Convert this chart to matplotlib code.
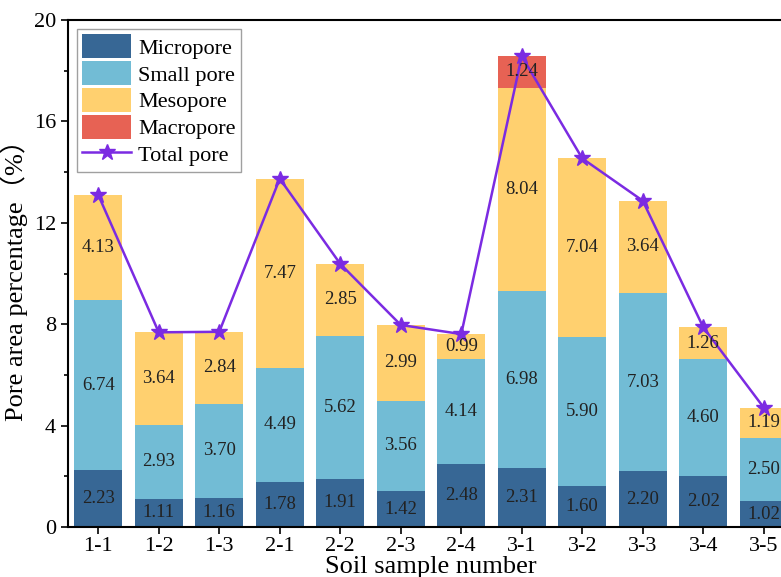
import numpy as np
import matplotlib
matplotlib.use('Agg')
from matplotlib import pyplot as plt
from matplotlib.ticker import MultipleLocator

# 数据
samples = ['1-1', '1-2', '1-3', '2-1', '2-2', '2-3', '2-4',
           '3-1', '3-2', '3-3', '3-4', '3-5']
micropore = [2.23, 1.11, 1.16, 1.78, 1.91, 1.42, 2.48, 2.31, 1.60, 2.20, 2.02, 1.02]
small_pore = [6.74, 2.93, 3.70, 4.49, 5.62, 3.56, 4.14, 6.98, 5.90, 7.03, 4.60, 2.50]
mesopore = [4.13, 3.64, 2.84, 7.47, 2.85, 2.99, 0.99, 8.04, 7.04, 3.64, 1.26, 1.19]
macropore = [0, 0, 0, 0, 0, 0, 0, 1.24, 0, 0, 0, 0]
total_pore = [13.10, 7.68, 7.70, 13.74, 10.38, 7.97, 7.61, 18.57, 14.54, 12.87, 7.88, 4.71]

colors = ['#376795', '#72BCD5', '#FFD06F', '#E76254']
names = ['Micropore', 'Small pore', 'Mesopore', 'Macropore']

plt.rcParams['font.family'] = ['Liberation Serif', 'Noto Sans CJK SC']

fig = plt.figure(figsize=(7.81, 5.77), dpi=100)
ax = fig.add_axes([68 / 781, 50 / 577, 726 / 781, 507 / 577])

x = np.arange(len(samples))
bottom = np.zeros(len(samples))
handles = []
for vals, c, n in zip([micropore, small_pore, mesopore, macropore], colors, names):
    bars = ax.bar(x, vals, 0.8, bottom=bottom, color=c, label=n)
    handles.append(bars)
    labels = ['%.2f' % v if v > 0 else '' for v in vals]
    ax.bar_label(bars, labels=labels, label_type='center', fontsize=13.5,
                 color='#222222')
    bottom += np.array(vals)

line, = ax.plot(x, total_pore, color='#7B2BE2', lw=1.8, marker='*', markersize=12,
                label='Total pore')
handles.append(line)

ax.set_xlim(-0.5, 11.5)
ax.set_ylim(0, 20)
ax.yaxis.set_major_locator(MultipleLocator(4))
ax.yaxis.set_minor_locator(MultipleLocator(2))
ax.set_xticks(x)
ax.set_xticklabels(samples)
ax.tick_params(axis='both', which='major', labelsize=16, direction='out',
               length=5, width=1.2)
ax.tick_params(axis='x', which='major', pad=2)
ax.tick_params(axis='y', which='minor', direction='out', length=3, width=1.2)
for s in ax.spines.values():
    s.set_linewidth(1.5)

ax.set_xlabel('Soil sample number', fontsize=19, labelpad=0)
ax.set_ylabel('Pore area percentage（%）', fontsize=19)

leg = ax.legend(handles=handles, labels=names + ['Total pore'], loc='upper left',
                fontsize=16, fancybox=False, edgecolor='#888888',
                handlelength=2.2, handleheight=1.25, borderpad=0.25,
                labelspacing=0.12, handletextpad=0.3, borderaxespad=0.4)
leg.get_frame().set_linewidth(1.0)

plt.savefig('out.png', dpi=100)
